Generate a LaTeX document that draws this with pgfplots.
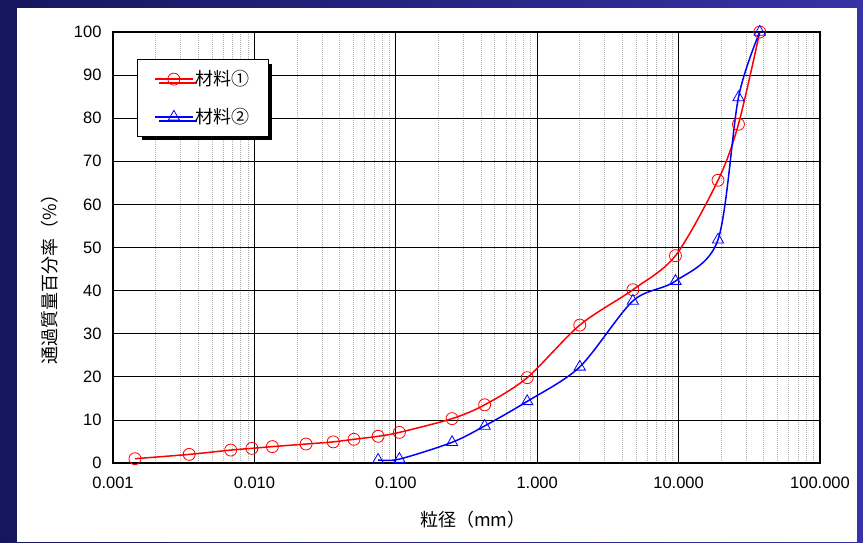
\documentclass[border=0pt]{standalone}
\usepackage{fontspec}
\setmainfont{Liberation Sans}
\newfontfamily\jp{Noto Sans CJK JP}
\usepackage{pgfplots}
\pgfplotsset{compat=1.18}
\usetikzlibrary{shadows}
\definecolor{navyA}{RGB}{22,22,95}
\definecolor{navyB}{RGB}{55,50,165}
\begin{document}
\begin{tikzpicture}[x=1pt,y=1pt]
\useasboundingbox (0,0) rectangle (863,542);
\shade[left color=navyA, right color=navyB] (0,0) rectangle (863,542);
\fill[white] (17,0) rectangle (857,534);
\begin{axis}[
  at={(113pt,79pt)}, anchor=south west,
  scale only axis, width=707pt, height=431pt,
  xmode=log, xmin=0.001, xmax=100, ymin=0, ymax=100,
  xtick={0.001,0.01,0.1,1,10,100},
  xticklabels={0.001,0.010,0.100,1.000,10.000,100.000},
  ytick={0,10,...,100},
  /pgf/number format/assume math mode=true,
  major tick length=0pt, minor tick length=0pt,
  xmajorgrids, ymajorgrids, xminorgrids,
  major grid style={black, line width=0.8pt},
  minor grid style={gray!60, line width=0.6pt, dash pattern=on 1pt off 1pt},
  axis line style={black, line width=1.6pt},
  ticklabel style={font=\fontsize{16.5}{18}\selectfont},
  yticklabel style={xshift=-8pt},
  xticklabel style={yshift=-10pt},
  xlabel={\jp 粒径（mm）},
  ylabel={\jp 通過質量百分率（\%）},
  label style={font=\fontsize{18}{20}\selectfont},
  xlabel style={at={(axis description cs:0.509,-0.132)}, anchor=center},
  ylabel style={at={(axis description cs:-0.089,0.436)}, anchor=center},
  clip=false,
  legend style={at={(axis description cs:0.034,0.937)}, anchor=north west,
    draw=black, line width=1.2pt, fill=white,
    inner xsep=17pt, inner ysep=9pt, row sep=17pt,
    font=\jp\fontsize{18}{20}\selectfont,
    drop shadow={shadow xshift=4pt, shadow yshift=-4pt, fill=black, opacity=1}},
  legend cell align=left,
  legend image code/.code={\draw[mark repeat=2,mark phase=2] plot coordinates {(0pt,0pt)(18.5pt,0pt)(37pt,0pt)};},
]
\addplot[red, line width=1.5pt, smooth, mark=o, mark size=6pt, mark options={line width=0.8pt}] coordinates {
(0.00143,1.0) (0.00346,2.0) (0.0068,3.0) (0.0096,3.4) (0.0134,3.8) (0.0232,4.4)
(0.0361,4.9) (0.0506,5.5) (0.075,6.2) (0.106,7.1) (0.25,10.3) (0.425,13.5)
(0.85,19.8) (2.0,32.0) (4.75,40.2) (9.5,48.1) (19,65.6) (26.5,78.6) (37.5,100)};
\addlegendentry{材料①}
\addplot[blue, line width=1.5pt, smooth, mark=triangle, mark size=6.5pt, mark options={line width=0.8pt}] coordinates {
(0.075,0.7) (0.106,0.9) (0.25,4.8) (0.425,8.6) (0.85,14.3) (2.0,22.3)
(4.75,37.6) (9.5,42.2) (19,51.8) (26.5,84.8) (37.5,100)};
\addlegendentry{材料②}
\end{axis}
\end{tikzpicture}
\end{document}
